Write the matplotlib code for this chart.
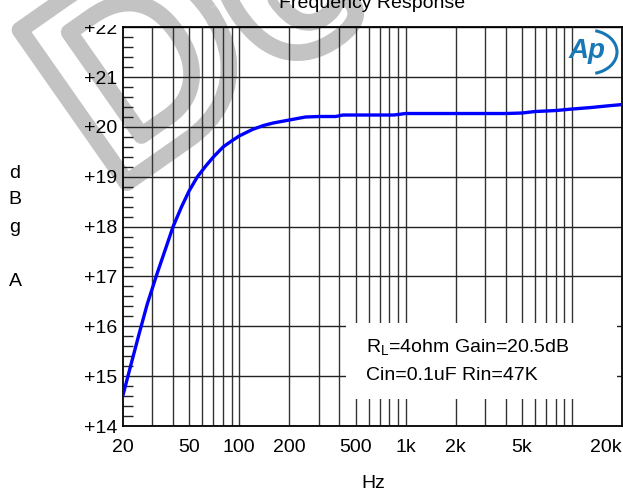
import numpy as np
import matplotlib
matplotlib.use('Agg')
import matplotlib.pyplot as plt
from matplotlib.patches import Rectangle, Arc
from matplotlib.transforms import Bbox, TransformedBbox
import matplotlib.patheffects as pe

plt.rcParams['font.family'] = ['Liberation Sans', 'DejaVu Sans']
plt.rcParams['mathtext.fontset'] = 'custom'
plt.rcParams['mathtext.rm'] = 'Liberation Sans'

# Data (Hz, dBg)
freq = [20, 22, 25, 28, 32, 36, 40, 45, 50, 56, 63, 70, 80, 90, 100, 120, 140,
        160, 200, 250, 300, 380, 420, 500, 700, 850, 1000, 2000, 3000, 4000,
        5000, 6000, 8000, 10000, 13000, 16000, 20000]
gain = [14.62, 15.15, 15.85, 16.45, 17.05, 17.55, 18.0, 18.4, 18.72, 19.0,
        19.22, 19.4, 19.6, 19.72, 19.82, 19.95, 20.03, 20.08, 20.14, 20.2,
        20.21, 20.21, 20.24, 20.24, 20.24, 20.24, 20.27, 20.27, 20.27, 20.27,
        20.28, 20.31, 20.33, 20.36, 20.39, 20.42, 20.45]

xtick_vals = [20, 50, 100, 200, 500, 1000, 2000, 5000, 20000]
xtick_text = ['20', '50', '100', '200', '500', '1k', '2k', '5k', '20k']
ytick_vals = list(range(14, 23))
ytick_text = ['+%d' % v for v in ytick_vals]
grid_freqs = [30, 40, 50, 60, 70, 80, 90, 100, 200, 300, 400, 500, 600, 700,
              800, 900, 1000, 2000, 3000, 4000, 5000, 6000, 7000, 8000, 9000,
              10000]
note_lines = ['R$_{\\rm L}$=4ohm Gain=20.5dB', 'Cin=0.1uF Rin=47K']
ylabel_letters = ['d', 'B', 'g', '', 'A']

W, H = 623, 490
fig = plt.figure(figsize=(W / 100, H / 100), dpi=100)
ax = fig.add_axes([123 / W, 1 - 426 / H, 499 / W, (426 - 27.3) / H])
ax.set_axisbelow(True)
ax.patch.set_visible(False)

ax.set_xscale('log')
ax.set_xlim(20, 20000)
ax.set_ylim(14, 22)

# grid
for f in grid_freqs:
    ax.axvline(f, color='#333333', lw=1.0, zorder=0.6)
for v in ytick_vals:
    ax.axhline(v, color='#222222', lw=1.0, zorder=0.6)

# white box behind the note text
ax.add_patch(Rectangle((0.447, 0.068), 0.543, 0.19, transform=ax.transAxes,
                       facecolor='white', edgecolor='none', zorder=1))

ax.plot(freq, gain, color='#0000ff', lw=2.4, zorder=3)

ax.set_xticks(xtick_vals)
ax.set_xticklabels(xtick_text)
ax.xaxis.set_minor_locator(matplotlib.ticker.NullLocator())
ax.tick_params(axis='x', which='major', length=0, pad=9.5, labelsize=14)
ax.get_xticklabels()[-1].set_ha('right')

ax.set_yticks(ytick_vals)
ax.set_yticklabels(ytick_text)
ax.set_yticks(np.arange(14, 22.01, 0.2), minor=True)
ax.tick_params(axis='y', which='major', length=0, pad=4, labelsize=14)
ax.tick_params(axis='y', which='minor', direction='in', length=7,
               width=1.0, color='#222222')

# the top label is cut off in the original
clip = TransformedBbox(Bbox([[0, 0], [1, 1 - 25 / H]]), fig.transFigure)
for lbl in ax.get_yticklabels():
    lbl.set_clip_box(clip)
    lbl.set_clip_on(True)

for s in ax.spines.values():
    s.set_linewidth(1.3)
    s.set_color('black')

for i, line in enumerate(note_lines):
    fig.text(366 / W, 1 - (348 + 27 * i) / H, line, fontsize=14,
             ha='left', va='center')

# y label as stacked letters
for i, ch in enumerate(ylabel_letters):
    fig.text(15 / W, 1 - (173 + 27 * i) / H, ch, fontsize=14,
             ha='center', va='center')

fig.text(373 / W, 1 - 483 / H, 'Hz', fontsize=14, ha='center', va='center')

fig.text(372 / W, 1 - 8 / H, 'Frequency Response', fontsize=14,
         ha='center', va='baseline', zorder=3)

# Ap logo
logo = '#1778b5'
fig.text(587 / W, 1 - 51 / H, 'Ap', fontsize=20, style='italic',
         fontweight='bold', color=logo, ha='center', va='center', zorder=4)
fig.add_artist(Arc((588 / W, 1 - 52 / H), 58 / W, 44 / H, theta1=-75, theta2=75,
                   transform=fig.transFigure, color=logo, lw=2.2, zorder=4))

# watermark, drawn underneath everything
fig.text(112 / W, 1 - 193 / H, 'De', fontsize=195, fontweight='bold',
         color='none', rotation=35, rotation_mode='anchor', ha='left',
         va='baseline', zorder=-1,
         path_effects=[pe.Stroke(linewidth=12, foreground='#c3c3c3')])

fig.savefig('out.png', dpi=100)
